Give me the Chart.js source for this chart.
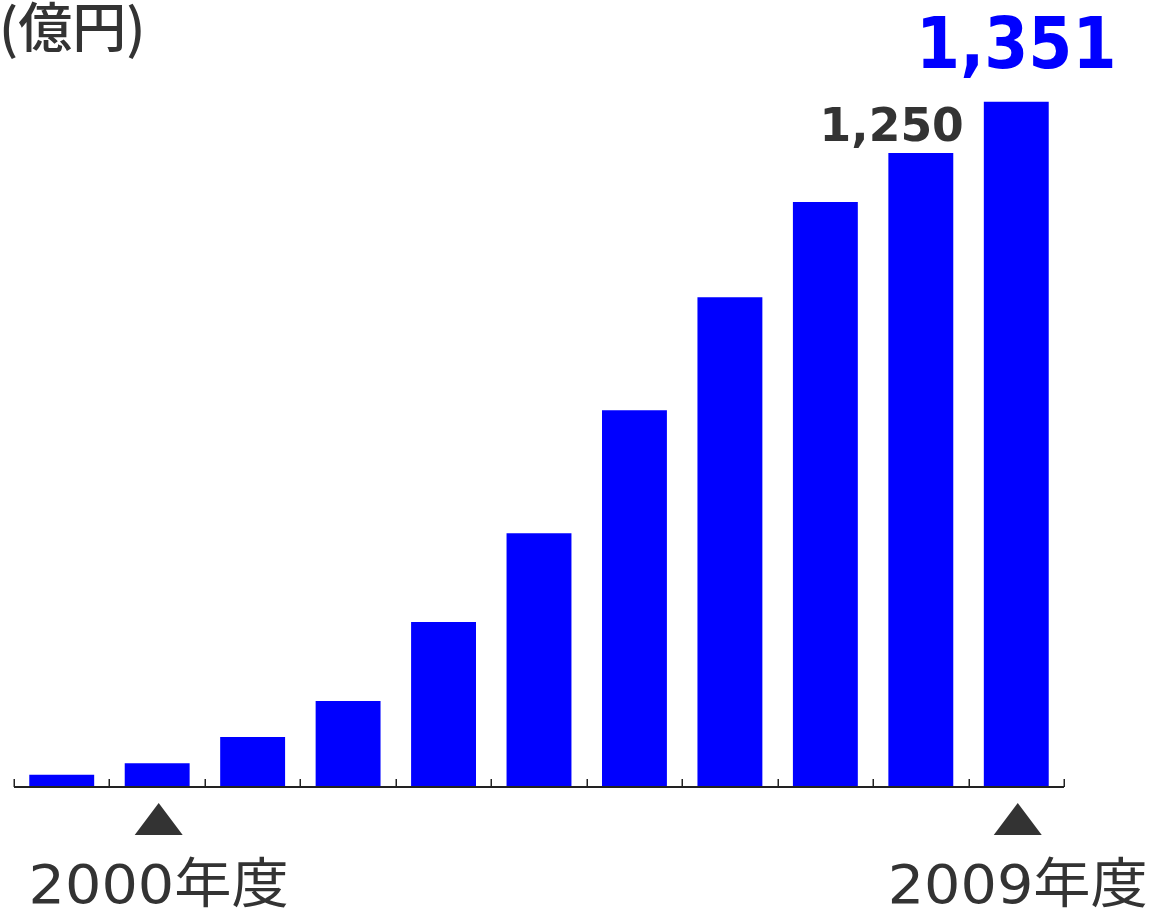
<!DOCTYPE html>
<html lang="ja">
<head>
<meta charset="utf-8">
<title>売上高推移</title>
<script src="https://cdn.jsdelivr.net/npm/chart.js@4/dist/chart.umd.min.js"></script>
<style>
  html, body { margin: 0; padding: 0; background: #ffffff; }
  #wrap { width: 1155px; height: 909px; position: relative; }
  canvas { display: block; }
</style>
</head>
<body>
<div id="wrap"><canvas id="chart" width="1155" height="909"></canvas></div>
<script>
// Fiscal years (1999–2009) and sales in 億円
const years = ['1999', '2000', '2001', '2002', '2003', '2004', '2005', '2006', '2007', '2008', '2009'];
const sales = [22, 45, 97, 168, 324, 499, 742, 965, 1153, 1250, 1351];
const unitLabel = '(億円)';
const markedYears = ['2000', '2009'];
const yearSuffix = '年度';
const valueLabelYears = ['2008', '2009'];

const BAR_COLOR = '#0000ff';
const TEXT_COLOR = '#333333';

// Axis line with short upward ticks at each category boundary
const axisPlugin = {
  id: 'baseAxis',
  afterDatasetsDraw(chart) {
    const { ctx, chartArea } = chart;
    const x = chart.scales.x;
    const y = chart.scales.y;
    const base = y.getPixelForValue(0);
    const n = years.length;
    const half = (x.getPixelForValue(1) - x.getPixelForValue(0)) / 2;
    ctx.save();
    ctx.strokeStyle = '#222222';
    ctx.lineWidth = 2;
    ctx.beginPath();
    ctx.moveTo(chartArea.left, base + 1);
    ctx.lineTo(chartArea.right, base + 1);
    ctx.stroke();
    ctx.lineWidth = 1.5;
    for (let i = 0; i <= n; i++) {
      const px = Math.round(x.getPixelForValue(i) - half) + 0.25;
      ctx.beginPath();
      ctx.moveTo(px, base - 7);
      ctx.lineTo(px, base + 1);
      ctx.stroke();
    }
    ctx.restore();
  }
};

// Text helper with optional horizontal scaling
function drawText(ctx, text, x, y, font, color, align, sx) {
  ctx.save();
  ctx.font = font;
  ctx.fillStyle = color;
  ctx.textAlign = align;
  ctx.textBaseline = 'alphabetic';
  ctx.translate(x, y);
  ctx.scale(sx, 1);
  ctx.fillText(text, 0, 0);
  ctx.restore();
}

// Unit caption, year markers and value labels
const annotatePlugin = {
  id: 'annotations',
  afterDraw(chart) {
    const { ctx } = chart;
    const meta = chart.getDatasetMeta(0);

    drawText(ctx, unitLabel, -1, 48, '500 54px "Noto Sans CJK JP"', TEXT_COLOR, 'left', 1);

    markedYears.forEach(yr => {
      const i = years.indexOf(yr);
      const bar = meta.data[i];
      const cx = bar.x + 1.5;
      ctx.save();
      ctx.fillStyle = TEXT_COLOR;
      ctx.beginPath();
      ctx.moveTo(cx, 803);
      ctx.lineTo(cx + 24, 835);
      ctx.lineTo(cx - 24, 835);
      ctx.closePath();
      ctx.fill();
      ctx.restore();
      drawText(ctx, yr + yearSuffix, cx, 903, '54px "DejaVu Sans", "Noto Sans CJK JP"', TEXT_COLOR, 'center', 1.06);
    });

    const fmt = v => v.toLocaleString('en-US');
    const iPrev = years.indexOf(valueLabelYears[0]);
    const iLast = years.indexOf(valueLabelYears[1]);
    const prev = meta.data[iPrev];
    const last = meta.data[iLast];
    drawText(ctx, fmt(sales[iPrev]), prev.x + 43, prev.y - 12, 'bold 47px "DejaVu Sans"', TEXT_COLOR, 'right', 0.97);
    drawText(ctx, fmt(sales[iLast]), last.x, last.y - 34, 'bold 72px "DejaVu Sans"', BAR_COLOR, 'center', 0.88);
  }
};

new Chart(document.getElementById('chart'), {
  type: 'bar',
  data: {
    labels: years,
    datasets: [{
      data: sales,
      backgroundColor: BAR_COLOR,
      borderWidth: 0,
      categoryPercentage: 1,
      barPercentage: 0.68
    }]
  },
  options: {
    responsive: false,
    animation: false,
    devicePixelRatio: 1,
    layout: { padding: { left: 14, right: 91, top: 77, bottom: 123 } },
    plugins: { legend: { display: false }, tooltip: { enabled: false } },
    scales: {
      x: { display: false },
      y: { display: false, min: 0, max: 1400 }
    }
  },
  plugins: [axisPlugin, annotatePlugin]
});
</script>
</body>
</html>
